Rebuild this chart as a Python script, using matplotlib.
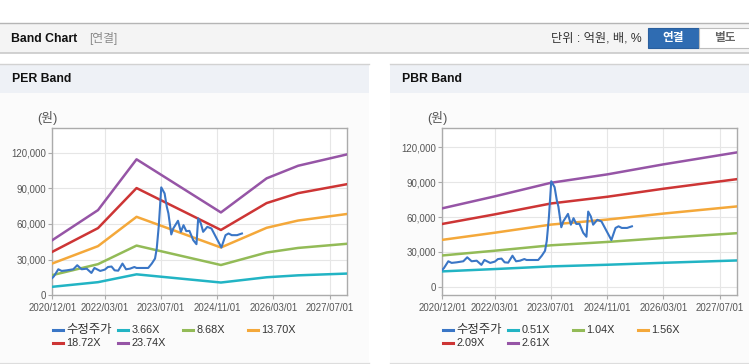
import pandas as pd
import matplotlib.pyplot as plt
import matplotlib.dates as mdates
from matplotlib.patches import Rectangle
from matplotlib.ticker import FuncFormatter

plt.rcParams['font.family'] = ['Liberation Sans', 'Noto Sans CJK KR', 'DejaVu Sans']

# 수정주가 (same in both panels)
price_dates = ["2020-12-01", "2020-12-15", "2021-01-22", "2021-02-20", "2021-04-05", "2021-06-01",
               "2021-07-05", "2021-08-12", "2021-09-25", "2021-11-05", "2021-12-01", "2022-01-20",
               "2022-03-01", "2022-03-28", "2022-04-28", "2022-05-25", "2022-06-25", "2022-08-01",
               "2022-09-01", "2022-10-05", "2022-11-12", "2022-12-01", "2023-03-12", "2023-04-12",
               "2023-05-10", "2023-05-25", "2023-06-12", "2023-07-03", "2023-08-01", "2023-08-20",
               "2023-09-03", "2023-09-28", "2023-10-15", "2023-11-25", "2023-12-20", "2024-01-12",
               "2024-02-05", "2024-03-03", "2024-04-05", "2024-05-03", "2024-05-18", "2024-06-10",
               "2024-06-30", "2024-08-05", "2024-09-10", "2024-12-05", "2025-01-10", "2025-02-05",
               "2025-03-05", "2025-04-20", "2025-06-01"]
price = [14600, 16000, 21900, 20500, 21000, 21900,
         25300, 21900, 22400, 18800, 23000, 20500,
         21600, 23800, 24200, 21000, 20700, 26700,
         21900, 22400, 23800, 23000, 23000, 26700,
         30900, 39400, 59000, 90800, 85700, 74500,
         68900, 51200, 56200, 62700, 53400, 59000,
         54000, 54200, 46400, 43000, 64700, 60500,
         53400, 57600, 56200, 40200, 50600, 52000,
         50600, 50600, 52000]

# PER band
per_dates = ["2020-12-01", "2022-01-01", "2022-12-01", "2024-12-01", "2026-01-01", "2026-10-01", "2027-12-01"]
per_labels = ["3.66X", "8.68X", "13.70X", "18.72X", "23.74X"]
per_366 = [7150, 11050, 17640, 10750, 15170, 16800, 18290]
per_868 = [16960, 26200, 41830, 25480, 35980, 39850, 43370]
per_1370 = [26770, 41360, 66020, 40220, 56790, 62900, 68450]
per_1872 = [36580, 56520, 90210, 54960, 77590, 85940, 93530]
per_2374 = [46390, 71670, 114400, 69700, 98400, 108990, 118600]

# PBR band
pbr_dates = ["2020-12-01", "2022-03-01", "2023-07-01", "2024-11-01", "2026-03-01", "2027-12-01"]
pbr_labels = ["0.51X", "1.04X", "1.56X", "2.09X", "2.61X"]
pbr_051 = [13190, 15200, 17490, 18910, 20590, 22610]
pbr_104 = [26900, 31000, 35660, 38550, 41980, 46100]
pbr_156 = [40350, 46500, 53490, 57830, 62970, 69160]
pbr_209 = [54050, 62300, 71670, 77470, 84360, 92650]
pbr_261 = [67500, 77800, 89500, 96750, 105350, 115700]

tick_dates = ["2020/12/01", "2022/03/01", "2023/07/01", "2024/11/01", "2026/03/01", "2027/07/01"]
band_colors = ["#22b4c4", "#93bb57", "#f4a83a", "#cd3535", "#9655a6"]
price_color = "#3a76c6"

W, H = 749, 364
fig = plt.figure(figsize=(W / 100, H / 100), dpi=100)
fig.patch.set_facecolor("white")

# overlay for page decorations (pixel coordinates)
bg = fig.add_axes([0, 0, 1, 1], zorder=0)
bg.set_xlim(0, W)
bg.set_ylim(H, 0)
bg.axis("off")

# header
bg.add_patch(Rectangle((0, 22.5), W, 30.5, facecolor="#f4f4f4", edgecolor="none"))
bg.plot([0, W], [22.5, 22.5], color="#b5b5b5", lw=1)
bg.plot([0, W], [53, 53], color="#c9c9c9", lw=1.2)
bg.text(11, 38.5, "Band Chart", fontsize=8.8, fontweight="bold", color="#111111", va="center")
bg.text(89, 38.5, "[연결]", fontsize=8.5, color="#8a8a8a", va="center")
bg.text(642, 38.5, "단위 : 억원, 배, %", fontsize=8.8, color="#333333", va="center", ha="right")
bg.add_patch(Rectangle((648, 28), 51, 19.5, facecolor="#2f6cb2", edgecolor="#2a5f9e", lw=0.8))
bg.text(673.5, 38, "연결", fontsize=8.4, fontweight="bold", color="white", va="center", ha="center")
bg.add_patch(Rectangle((699, 28), 55, 19.5, facecolor="white", edgecolor="#bdbdbd", lw=0.8))
bg.text(725, 38, "별도", fontsize=8.4, fontweight="bold", color="#666666", va="center", ha="center")

# panels
for x0, x1, title in [(0, 369, "PER Band"), (390, W, "PBR Band")]:
    bg.add_patch(Rectangle((x0, 64), x1 - x0, 28.5, facecolor="#eef1f6", edgecolor="none"))
    bg.add_patch(Rectangle((x0, 92.5), x1 - x0, 269.5, facecolor="#fbfbfb", edgecolor="none"))
    bg.plot([x0, x1], [64, 64], color="#d2d2d2", lw=1)
    bg.plot([x0, x1], [362.5, 362.5], color="#dddddd", lw=1)
    bg.text(x0 + 11.5, 79, title, fontsize=8.8, fontweight="bold", color="#111111", va="center")


def draw_panel(left_px, ylim, dates, bands, labels):
    ax = fig.add_axes([left_px / W, (H - 295.3) / H, 295 / W, 167 / H], zorder=2)
    ax.set_facecolor("white")
    ax.plot(pd.to_datetime(price_dates), price, color=price_color, lw=1.5, zorder=4)
    for vals, c in zip(bands, band_colors):
        ax.plot(pd.to_datetime(dates), vals, color=c, lw=1.8, zorder=3)
    ax.set_xlim(pd.Timestamp("2020-12-01"), pd.Timestamp("2027-12-01"))
    ax.set_ylim(*ylim)
    ax.set_xticks(pd.to_datetime(tick_dates))
    ax.xaxis.set_major_formatter(mdates.DateFormatter("%Y/%m/%d"))
    ax.set_yticks([0, 30000, 60000, 90000, 120000])
    ax.yaxis.set_major_formatter(FuncFormatter(lambda v, p: f"{int(v):,}"))
    ax.grid(True, color="#e6e6e6", lw=0.8)
    ax.set_axisbelow(True)
    for s in ax.spines.values():
        s.set_color("#ababab")
        s.set_linewidth(1)
    ax.tick_params(axis="both", colors="#ababab", labelcolor="#555555", labelsize=6.9, length=3)
    ax.tick_params(axis="x", pad=2.5)
    ax.tick_params(axis="y", pad=1.5)
    bg.text(left_px - 15.5, 118, "(원)", fontsize=9.2, color="#555555", va="center")

    # legend, fixed-width columns
    items = [("수정주가", price_color)] + list(zip(labels, band_colors))
    for i, (lab, c) in enumerate(items):
        col, row = i % 4, i // 4
        lx = left_px + 0.4 + col * 65
        ly = 330 + row * 13.3
        bg.plot([lx, lx + 10.6], [ly, ly], color=c, lw=2.2)
        fs = 8.9 if i == 0 else 7.8
        bg.text(lx + 13.5, ly, lab, fontsize=fs, color="#333333", va="center")
    return ax


draw_panel(52.3, (0, 140500), per_dates, [per_366, per_868, per_1370, per_1872, per_2374], per_labels)
draw_panel(442.3, (-7400, 136400), pbr_dates, [pbr_051, pbr_104, pbr_156, pbr_209, pbr_261], pbr_labels)

plt.savefig("out.png", dpi=100)
